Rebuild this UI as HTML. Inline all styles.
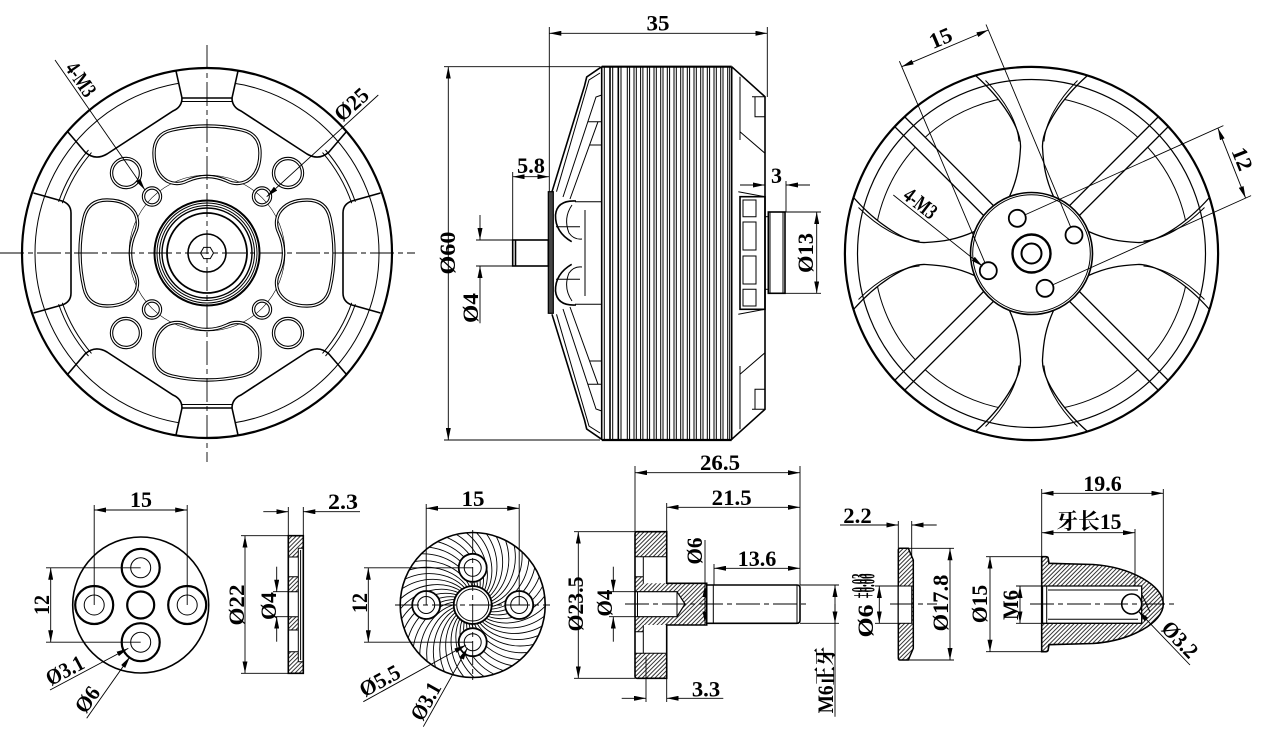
<!DOCTYPE html>
<html><head><meta charset="utf-8">
<style>
html,body{margin:0;padding:0;background:#fff;width:1265px;height:738px;overflow:hidden;}
svg{display:block;}
text{font-family:"Liberation Serif","Noto Serif CJK SC",serif;font-weight:bold;font-size:22px;fill:#000;}
.o{fill:none;stroke:#000;stroke-width:1.6;}
.k{fill:none;stroke:#000;stroke-width:2.2;}
.t{fill:none;stroke:#000;stroke-width:1;}
.d{fill:none;stroke:#000;stroke-width:0.9;}
.c{fill:none;stroke:#000;stroke-width:0.9;stroke-dasharray:24 4 5 4;}
.w{fill:#fff;stroke:#000;stroke-width:1.4;}
.b{fill:none;stroke:#000;stroke-width:3.4;}
.bw{fill:none;stroke:#fff;stroke-width:1.3;}
.ar{marker-end:url(#a);}
.ab{marker-start:url(#a);marker-end:url(#a);}
</style></head><body>
<svg width="1265" height="738" viewBox="0 0 1265 738" xmlns="http://www.w3.org/2000/svg">
<defs>
<marker id="a" viewBox="0 0 12 5" refX="12" refY="2.5" markerWidth="12" markerHeight="5" markerUnits="userSpaceOnUse" orient="auto-start-reverse"><path d="M0,0L12,2.5L0,5z" fill="#000" stroke="none"/></marker>
<pattern id="h" patternUnits="userSpaceOnUse" width="3" height="3" patternTransform="rotate(45)"><line x1="0.5" y1="0" x2="0.5" y2="3" stroke="#000" stroke-width="0.8"/></pattern>
<clipPath id="cp6"><circle cx="472.7" cy="605" r="72"/></clipPath>
<path id="sl" d="M-35,-123 Q0,-131 35,-123 Q53,-119 53,-100 Q53,-80 40,-72 Q30,-67 20,-72 Q0,-81 -20,-72 Q-30,-67 -40,-72 Q-53,-80 -53,-100 Q-53,-119 -35,-123 Z"/>
<g id="q1">
 <path class="o" d="M-31,-182 L-25,-155 L0,-155"/>
 <path class="t" d="M-25,-151.5 L0,-151.5"/>
 <path class="o" d="M-25,-155 Q-25,-146 -34,-142 L-100,-99 Q-112,-92 -122,-101 L-139.5,-121.5"/>
 <path class="t" d="M-118.5,-103 A157,157 0 0 0 -148.4,-51.1"/>
 <path class="t" d="M-115.5,-100.4 A153,153 0 0 0 -144.7,-49.8"/>
 <path class="o" d="M-173.5,-60 L-145,-52 Q-136,-49 -136,-40 L-136,0"/>
</g>
<polygon id="ds" points="56,-7 186.3,-7 186.3,7 56,7"/>
<path id="cs" d="M-56,-178 C-30,-155 -10,-125 -11,-106 C-12,-88 -14,-75 -22,-57 L22,-57 C14,-75 12,-88 11,-106 C10,-125 30,-155 56,-178 A186.6,186.6 0 0 0 -56,-178 Z"/>
<path id="cf" d="M-46,-173 C-26,-153 -14,-131 -12.5,-112 M46,-173 C26,-153 14,-131 12.5,-112"/>
<path id="sw" d="M0,-76 C22,-56 24,-26 11.5,-9.6"/>
<g id="lc">
 <path class="o" d="M601.7,66.7 L586.7,77 L584.5,86 L552,191.7"/>
 <path class="t" d="M600,73 L589,80 L556.5,191.7"/>
 <path class="t" d="M601.7,95 L596,97 L563,197"/>
 <path class="t" d="M588,121.7 L601.7,121.7 M590,145 L601.7,145"/>
 <path class="t" d="M598,121.7 L570,199 M575,201.7 L601.7,201.7"/>
 <path class="o" d="M576,201 Q557,200 555.5,215 Q555,232 571.7,241.7"/>
 <path class="t" d="M572,205 Q563,218 569,233 Q574,240 582,239 M556,226.7 H580 M585,210 V253"/>
</g>
<g id="rc">
 <path class="o" d="M731.7,66.7 L765,96.7 V253"/>
 <path class="t" d="M740,76.7 V140 M740,131.7 L765,153.3 M752,96.7 H765 M755,96.7 V116.7 H765"/>
 <path class="t" d="M738.3,191.7 L765,196.7"/>
</g>
</defs>

<!-- ================= VIEW 1 ================= -->
<g transform="translate(207,253)">
 <circle r="172" class="t"/>
 <path d="M-31,-182 L-25,-155 L25,-155 L31,-182 Z M-31,182 L-25,155 L25,155 L31,182 Z" fill="#fff" stroke="none"/>
 <circle r="185" class="k"/>
 <use href="#q1"/>
 <use href="#q1" transform="scale(-1,1)"/>
 <use href="#q1" transform="scale(1,-1)"/>
 <use href="#q1" transform="scale(-1,-1)"/>
 <circle r="78" fill="none" stroke="#000" stroke-width="0.6"/>
 <use href="#sl" class="b"/><use href="#sl" class="bw"/>
 <use href="#sl" class="b" transform="rotate(90)"/><use href="#sl" class="bw" transform="rotate(90)"/>
 <use href="#sl" class="b" transform="rotate(180)"/><use href="#sl" class="bw" transform="rotate(180)"/>
 <use href="#sl" class="b" transform="rotate(270)"/><use href="#sl" class="bw" transform="rotate(270)"/>
 <g class="b"><circle cx="-81" cy="-80" r="14.5"/><circle cx="81" cy="-80" r="14.5"/><circle cx="-81" cy="80" r="14.5"/><circle cx="81" cy="80" r="14.5"/>
 <circle cx="-55" cy="-56.5" r="8.5"/><circle cx="55" cy="-56.5" r="8.5"/><circle cx="-55" cy="56.5" r="8.5"/><circle cx="55" cy="56.5" r="8.5"/></g>
 <g class="bw"><circle cx="-81" cy="-80" r="14.5"/><circle cx="81" cy="-80" r="14.5"/><circle cx="-81" cy="80" r="14.5"/><circle cx="81" cy="80" r="14.5"/>
 <circle cx="-55" cy="-56.5" r="8.5"/><circle cx="55" cy="-56.5" r="8.5"/><circle cx="-55" cy="56.5" r="8.5"/><circle cx="55" cy="56.5" r="8.5"/></g>
 <circle r="52.5" class="k" style="stroke-width:2"/>
 <circle r="50" class="t"/>
 <circle r="47.5" class="t"/>
 <circle r="45" class="o" style="stroke-width:1.4"/>
 <circle r="40" class="k" style="stroke-width:1.8"/>
 <circle r="19" class="o"/>
 <polygon points="6.5,0 3.25,5.63 -3.25,5.63 -6.5,0 -3.25,-5.63 3.25,-5.63" class="t"/>
 <path class="c" d="M0,-208 V209 M-207,0 H208"/>
</g>
<path class="d ar" d="M55,60 L145,190"/>
<path class="d ar" d="M378.3,95 L266.7,196.7"/>
<text transform="translate(62,70) rotate(55.3)" y="-3" font-size="19" textLength="37" lengthAdjust="spacingAndGlyphs">4-M3</text>
<text transform="translate(345,125.6) rotate(-42.3)" y="-4" textLength="38" lengthAdjust="spacingAndGlyphs">Ø25</text>

<!-- ================= VIEW 2 (side) ================= -->
<path class="k" d="M601.7,66.7 H731.7 M601.7,440 H731.7"/>
<path class="o" d="M601.7,66.7V440 M610,66.7V440 M618.3,66.7V440 M731.7,66.7V440"/>
<path class="t" d="M604.3,66.7V440 M612.7,66.7V440 M621,66.7V440 M727.7,66.7V440 M729.7,66.7V440
M627.3,66.7V440 M629.6,66.7V440 M634,66.7V440 M636.3,66.7V440 M640.6,66.7V440 M642.9,66.7V440 M647.3,66.7V440 M649.6,66.7V440 M654,66.7V440 M656.3,66.7V440 M660.7,66.7V440 M663,66.7V440 M667.3,66.7V440 M669.6,66.7V440 M674,66.7V440 M676.3,66.7V440 M680.7,66.7V440 M683,66.7V440 M687.3,66.7V440 M689.6,66.7V440 M694,66.7V440 M696.3,66.7V440 M700.7,66.7V440 M703,66.7V440 M707.3,66.7V440 M709.6,66.7V440 M714,66.7V440 M716.3,66.7V440 M720.7,66.7V440 M723,66.7V440"/>
<use href="#lc"/>
<use href="#lc" transform="translate(0,506) scale(1,-1)"/>
<rect x="548.3" y="191.7" width="5" height="121.6" fill="#444" stroke="#000" stroke-width="1.2"/>
<rect x="512.7" y="240" width="35.6" height="26" class="o" fill="#fff"/>
<path class="o" d="M515.5,240 V266"/>
<use href="#rc"/>
<use href="#rc" transform="translate(0,506) scale(1,-1)"/>
<rect x="740" y="196.7" width="25" height="112.6" class="o"/>
<path class="t" d="M743,200 H756 V216.7 H743 Z M743,222 H756 V250 H743 Z M743,256 H756 V284 H743 Z M743,289.3 H756 V306 H743 Z"/>
<rect x="765" y="216.7" width="3.3" height="72.6" class="t"/>
<rect x="768.3" y="212" width="16.7" height="81.3" class="o"/>
<path class="t" d="M770,212 V293.3 M783,212 V293.3"/>
<!-- dims view 2 -->
<path class="d ab" d="M549.3,33.3 H767.3"/>
<path class="d" d="M549.3,27 V192 M767.3,27 V97"/>
<text x="658" y="30.5" text-anchor="middle" textLength="23" lengthAdjust="spacingAndGlyphs">35</text>
<path class="d ab" d="M448.3,66.7 V440"/>
<path class="d" d="M444,66.7 H600 M444,440 H600"/>
<text transform="translate(455,253) rotate(-90)" text-anchor="middle" font-size="24" textLength="43" lengthAdjust="spacingAndGlyphs">Ø60</text>
<path class="d ab" d="M512.7,176.7 H549.3"/>
<path class="d" d="M512.7,172 V240"/>
<text x="531" y="173" text-anchor="middle" textLength="28" lengthAdjust="spacingAndGlyphs">5.8</text>
<path class="d ar" d="M480,215 V240"/>
<path class="d ar" d="M480,323.3 V266"/>
<path class="d" d="M476,240 H512.7 M476,266 H512.7"/>
<text transform="translate(478,308) rotate(-90)" text-anchor="middle" textLength="30" lengthAdjust="spacingAndGlyphs">Ø4</text>
<path class="d ar" d="M740,185 H765"/>
<path class="d ar" d="M810,185 H786"/>
<path class="d" d="M786,181 V212"/>
<text x="776.5" y="183" text-anchor="middle" textLength="11" lengthAdjust="spacingAndGlyphs">3</text>
<path class="d ab" d="M816.7,212 V293.3"/>
<path class="d" d="M785,212 H821 M785,293.3 H821"/>
<text transform="translate(813,253) rotate(-90)" text-anchor="middle" textLength="40" lengthAdjust="spacingAndGlyphs">Ø13</text>

<!-- ================= VIEW 3 ================= -->
<g transform="translate(1031.5,253.5)">
 <circle r="157.5" class="t"/>
 <g class="w" style="stroke-width:1.3">
  <use href="#ds" transform="rotate(45)"/><use href="#ds" transform="rotate(135)"/><use href="#ds" transform="rotate(225)"/><use href="#ds" transform="rotate(315)"/>
  <use href="#cs"/><use href="#cs" transform="rotate(90)"/><use href="#cs" transform="rotate(180)"/><use href="#cs" transform="rotate(270)"/>
 </g>
 <g class="t">
  <use href="#cf"/><use href="#cf" transform="rotate(90)"/><use href="#cf" transform="rotate(180)"/><use href="#cf" transform="rotate(270)"/>
 </g>
 <circle r="174" class="t" style="stroke-width:1.2"/>
 <circle r="186.6" class="k"/>
 <circle r="61" class="w" style="stroke-width:1.6"/>
 <circle r="58.8" class="t"/>
 <circle r="19" class="k" style="stroke-width:2.4"/>
 <circle r="10" class="k" style="stroke-width:2"/>
 <g class="o" style="stroke-width:1.8"><circle cx="-14.2" cy="-35.2" r="8.5"/><circle cx="42.5" cy="-18.5" r="8.5"/><circle cx="-43.2" cy="17.2" r="8.5"/><circle cx="13.5" cy="34.8" r="8.5"/></g>
</g>
<path class="d ab" d="M901.7,66.7 L988.3,30"/>
<path class="d" d="M985.2,263.3 L899.4,61.2 M1070.9,227.6 L986,24.5"/>
<text transform="translate(945,48.4) rotate(-23)" y="-4" text-anchor="middle" textLength="23" lengthAdjust="spacingAndGlyphs">15</text>
<path class="d ab" d="M1217.9,128.1 L1245.6,198.1"/>
<path class="d" d="M1025.5,214.6 L1223.4,125.6 M1053.2,284.6 L1251.1,195.6"/>
<text transform="translate(1231.8,163.1) rotate(68.4)" y="-4" text-anchor="middle" textLength="23" lengthAdjust="spacingAndGlyphs">12</text>
<path class="d ar" d="M893.3,195 L982.6,266.2"/>
<text transform="translate(900,200.3) rotate(38.1)" y="-3" font-size="19" textLength="36" lengthAdjust="spacingAndGlyphs">4-M3</text>

<!-- ================= VIEW 4 ================= -->
<circle cx="140.7" cy="605" r="68" class="o"/>
<g class="k"><circle cx="140.7" cy="567.8" r="19"/><circle cx="140.7" cy="642.2" r="19"/><circle cx="94.2" cy="605" r="19"/><circle cx="187.2" cy="605" r="19"/><circle cx="140.7" cy="605" r="13.5"/></g>
<g class="t"><circle cx="140.7" cy="567.8" r="10"/><circle cx="140.7" cy="642.2" r="10"/><circle cx="94.2" cy="605" r="10"/><circle cx="187.2" cy="605" r="10"/></g>
<path class="d ab" d="M94.2,510 H187.2"/>
<path class="d" d="M94.2,505 V605 M187.2,505 V605"/>
<text x="141" y="507" text-anchor="middle" textLength="22" lengthAdjust="spacingAndGlyphs">15</text>
<path class="d ab" d="M50.7,567.8 V642.2"/>
<path class="d" d="M46,567.8 H140.7 M46,642.2 H140.7"/>
<text transform="translate(49,605) rotate(-90)" text-anchor="middle" textLength="20" lengthAdjust="spacingAndGlyphs">12</text>
<path class="d ar" d="M50,690 L128.3,648.3"/>
<path class="d ar" d="M86.7,718.3 L130,656.7"/>
<text transform="translate(52,688.9) rotate(-28)" y="-3" textLength="40" lengthAdjust="spacingAndGlyphs">Ø3.1</text>
<text transform="translate(88,716.5) rotate(-54.9)" y="-3" textLength="27" lengthAdjust="spacingAndGlyphs">Ø6</text>

<!-- ================= VIEW 5 ================= -->
<path fill="url(#h)" d="M288.3,535.7 H303.3 V548.3 H298.3 V557 H288.3 Z"/>
<rect x="288.3" y="576.7" width="10" height="15" fill="url(#h)"/>
<rect x="288.3" y="616.7" width="10" height="13.3" fill="url(#h)"/>
<path fill="url(#h)" d="M288.3,651.7 H298.3 V661.7 H303.3 V673.3 H288.3 Z"/>
<path class="o" d="M288.3,535.7 H303.3 V673.3 H288.3 Z"/>
<path class="t" d="M298.3,548.3 V661.7 M298.3,548.3 H303.3 M298.3,661.7 H303.3 M300.6,550 V660 M288.3,557 H298.3 M288.3,576.7 H298.3 M288.3,591.7 H298.3 M288.3,616.7 H298.3 M288.3,630 H298.3 M288.3,651.7 H298.3"/>
<path class="d ar" d="M263.3,511.7 H288.3"/>
<path class="d ar" d="M360,511.7 H303.3"/>
<path class="d" d="M288.3,507 V535.7 M303.3,507 V535.7"/>
<text x="343" y="509" text-anchor="middle" textLength="30" lengthAdjust="spacingAndGlyphs">2.3</text>
<path class="d ab" d="M245,535.7 V673.3"/>
<path class="d" d="M241,535.7 H288.3 M241,673.3 H288.3"/>
<text transform="translate(244,605) rotate(-90)" text-anchor="middle" textLength="41" lengthAdjust="spacingAndGlyphs">Ø22</text>
<path class="d ar" d="M276.7,566.7 V591.7"/>
<path class="d ar" d="M276.7,641.7 V616.7"/>
<path class="d" d="M273,591.7 H288.3 M273,616.7 H288.3"/>
<text transform="translate(276,606) rotate(-90)" text-anchor="middle" textLength="28" lengthAdjust="spacingAndGlyphs">Ø4</text>

<!-- ================= VIEW 6 ================= -->
<g clip-path="url(#cp6)">
 <g fill="none" stroke="#000" stroke-width="0.9" transform="translate(472.7,605)">
  <use href="#sw"/><use href="#sw" transform="rotate(8)"/><use href="#sw" transform="rotate(16)"/><use href="#sw" transform="rotate(24)"/><use href="#sw" transform="rotate(32)"/><use href="#sw" transform="rotate(40)"/><use href="#sw" transform="rotate(48)"/><use href="#sw" transform="rotate(56)"/><use href="#sw" transform="rotate(64)"/>
  <use href="#sw" transform="rotate(72)"/><use href="#sw" transform="rotate(80)"/><use href="#sw" transform="rotate(88)"/><use href="#sw" transform="rotate(96)"/><use href="#sw" transform="rotate(104)"/><use href="#sw" transform="rotate(112)"/><use href="#sw" transform="rotate(120)"/><use href="#sw" transform="rotate(128)"/><use href="#sw" transform="rotate(136)"/>
  <use href="#sw" transform="rotate(144)"/><use href="#sw" transform="rotate(152)"/><use href="#sw" transform="rotate(160)"/><use href="#sw" transform="rotate(168)"/><use href="#sw" transform="rotate(176)"/><use href="#sw" transform="rotate(184)"/><use href="#sw" transform="rotate(192)"/><use href="#sw" transform="rotate(200)"/><use href="#sw" transform="rotate(208)"/>
  <use href="#sw" transform="rotate(216)"/><use href="#sw" transform="rotate(224)"/><use href="#sw" transform="rotate(232)"/><use href="#sw" transform="rotate(240)"/><use href="#sw" transform="rotate(248)"/><use href="#sw" transform="rotate(256)"/><use href="#sw" transform="rotate(264)"/><use href="#sw" transform="rotate(272)"/><use href="#sw" transform="rotate(280)"/>
  <use href="#sw" transform="rotate(288)"/><use href="#sw" transform="rotate(296)"/><use href="#sw" transform="rotate(304)"/><use href="#sw" transform="rotate(312)"/><use href="#sw" transform="rotate(320)"/><use href="#sw" transform="rotate(328)"/><use href="#sw" transform="rotate(336)"/><use href="#sw" transform="rotate(344)"/><use href="#sw" transform="rotate(352)"/>
 </g>
</g>
<g class="w" style="stroke-width:1.8"><circle cx="472.7" cy="567.8" r="14"/><circle cx="472.7" cy="642.2" r="14"/><circle cx="426.2" cy="605" r="14"/><circle cx="519.2" cy="605" r="14"/><circle cx="472.7" cy="605" r="19"/></g>
<g class="t"><circle cx="472.7" cy="567.8" r="8.5"/><circle cx="472.7" cy="642.2" r="8.5"/><circle cx="426.2" cy="605" r="8.5"/><circle cx="519.2" cy="605" r="8.5"/><circle cx="472.7" cy="605" r="16"/></g>
<circle cx="472.7" cy="605" r="72.5" class="o"/>
<path class="c" d="M395,605 H550 M472.7,530 V680"/>
<path class="d ab" d="M426.2,508.3 H519.2"/>
<path class="d" d="M426.2,504 V605 M519.2,504 V605"/>
<text x="473" y="506" text-anchor="middle" textLength="23" lengthAdjust="spacingAndGlyphs">15</text>
<path class="d ab" d="M368.3,567.8 V642.2"/>
<path class="d" d="M364,567.8 H472.7 M364,642.2 H472.7"/>
<text transform="translate(367,603) rotate(-90)" text-anchor="middle" textLength="20" lengthAdjust="spacingAndGlyphs">12</text>
<path class="d ar" d="M363.3,701.7 L466,645"/>
<path class="d ar" d="M423.3,726.7 L467.5,648"/>
<text transform="translate(366,700.2) rotate(-29.1)" y="-3" textLength="43" lengthAdjust="spacingAndGlyphs">Ø5.5</text>
<text transform="translate(425,723.7) rotate(-60.6)" y="-3" textLength="40" lengthAdjust="spacingAndGlyphs">Ø3.1</text>

<!-- ================= VIEW 7 ================= -->
<path fill="url(#h)" d="M635,531.7 H666.7 V556.7 H635 Z"/>
<path fill="url(#h)" d="M635,653.3 H666.7 V678.3 H635 Z"/>
<path fill="url(#h)" d="M635,576.7 H643.3 V583.3 H706.7 V625 H643.3 V631.7 H635 Z"/>
<path fill="#fff" stroke="#000" stroke-width="1.2" d="M635,591.7 H677 L685,604 L677,616.7 H635"/>
<path class="o" d="M637,531.7 H666.7 V583.3 H706.7 V625 H666.7 V678.3 H637 Q635,678.3 635,676 V534 Q635,531.7 637,531.7 Z"/>
<path class="t" d="M643.3,556.7 V583.3 M635,556.7 H666.7 M635,576.7 H643.3 M643.3,625 V653.3 M635,653.3 H666.7 M635,631.7 H643.3 M677,591.7 V616.7 M637.5,591.7 V616.7"/>
<path class="o" d="M706.7,585 H797 Q800,585 800,588 V620.3 Q800,623.3 797,623.3 H706.7"/>
<path class="t" d="M713.3,585 V623.3 M797,585 V623.3"/>
<path class="c" d="M625,604 H807"/>
<path class="d ab" d="M635,472.7 H800"/>
<path class="d" d="M635,466 V531.7 M800,466 V585"/>
<text x="720" y="470" text-anchor="middle" textLength="40" lengthAdjust="spacingAndGlyphs">26.5</text>
<path class="d ab" d="M666.7,507.3 H800"/>
<path class="d" d="M666.7,503 V531.7"/>
<text x="731.7" y="505" text-anchor="middle" textLength="40" lengthAdjust="spacingAndGlyphs">21.5</text>
<path class="d ab" d="M714,568.3 H800"/>
<path class="d" d="M714,564 V585"/>
<text x="757" y="566" text-anchor="middle" textLength="38.7" lengthAdjust="spacingAndGlyphs">13.6</text>
<path class="d" d="M705,540 V604"/>
<path class="d ar" d="M705,604 V585"/>
<path class="d ar" d="M705,604 V623.3"/>
<text transform="translate(702,551) rotate(-90)" text-anchor="middle" textLength="27" lengthAdjust="spacingAndGlyphs">Ø6</text>
<path class="d ab" d="M578.3,531.7 V678.3"/>
<path class="d" d="M574,531.7 H635 M574,678.3 H635"/>
<text transform="translate(583,604) rotate(-90)" text-anchor="middle" textLength="55" lengthAdjust="spacingAndGlyphs">Ø23.5</text>
<path class="d ar" d="M613.3,566.7 V591.7"/>
<path class="d ar" d="M613.3,641.7 V616.7"/>
<path class="d" d="M609,591.7 H635 M609,616.7 H635"/>
<text transform="translate(612,603) rotate(-90)" text-anchor="middle" textLength="27" lengthAdjust="spacingAndGlyphs">Ø4</text>
<path class="d ar" d="M621.7,698.3 H646"/>
<path class="d ar" d="M723.3,698.3 H666.7"/>
<path class="d" d="M646,657 V702 M666.7,679 V702"/>
<text x="706" y="696.5" text-anchor="middle" textLength="28.3" lengthAdjust="spacingAndGlyphs">3.3</text>
<path class="d" d="M835,604 V716.7"/>
<path class="d ar" d="M835,604 V585"/>
<path class="d ar" d="M835,604 V623.3"/>
<path class="d" d="M800,585 H839 M800,623.3 H839"/>
<text transform="translate(833,680) rotate(-90)" text-anchor="middle" font-size="20" textLength="66.7" lengthAdjust="spacingAndGlyphs">M6正牙</text>

<!-- ================= VIEW 8 ================= -->
<path fill="url(#h)" stroke="#000" stroke-width="1.5" d="M900,548.3 H908.3 L913.3,560 V648.3 L908.3,660 H900 Q898.3,660 898.3,658 V550 Q898.3,548.3 900,548.3 Z"/>
<rect x="898.3" y="586" width="13.4" height="37.3" fill="#fff" stroke="#000" stroke-width="1"/>
<path class="c" d="M890,604 H937"/>
<path class="d ar" d="M840,525 H898.3"/>
<path class="d ar" d="M936.7,525 H911.7"/>
<path class="d" d="M898.3,521 V548.3 M911.7,521 V558"/>
<text x="857.5" y="523" text-anchor="middle" textLength="28.4" lengthAdjust="spacingAndGlyphs">2.2</text>
<path class="d ab" d="M879.3,586 V623.3"/>
<path class="d" d="M875,586 H898.3 M875,623.3 H898.3"/>
<text transform="translate(873,621) rotate(-90)" text-anchor="middle" font-size="18" textLength="33" lengthAdjust="spacingAndGlyphs">Ø6</text>
<text transform="translate(866.5,586) rotate(-90)" text-anchor="middle" font-size="10" textLength="25" lengthAdjust="spacingAndGlyphs">+0.03</text>
<text transform="translate(874.5,586) rotate(-90)" text-anchor="middle" font-size="10" textLength="25" lengthAdjust="spacingAndGlyphs">+0.00</text>
<path class="d ab" d="M950,548.3 V660"/>
<path class="d" d="M908,548.3 H954 M908,660 H954"/>
<text transform="translate(948,603) rotate(-90)" text-anchor="middle" textLength="56.7" lengthAdjust="spacingAndGlyphs">Ø17.8</text>

<!-- ================= VIEW 9 ================= -->
<path fill="url(#h)" stroke="#000" stroke-width="1.6" d="M1041.7,556.7 H1046 Q1048.3,556.7 1048.3,559 L1049,563.3 L1093,564.5 C1130,567 1163.3,585 1163.3,604 C1163.3,623 1130,641 1093,643.5 L1049,644.7 L1048.3,649 Q1048.3,651.7 1046,651.7 H1041.7 Z"/>
<path fill="#fff" stroke="#000" stroke-width="1.3" d="M1042.5,586 H1141.7 V623.3 H1042.5 Z"/>
<path class="t" d="M1048,590 H1138 M1048,619.3 H1138 M1046.7,586 V623.3 M1141.7,594 L1150,612"/>
<circle cx="1131.7" cy="604" r="10" class="o" fill="#fff"/>
<path class="c" d="M1030,604 H1177"/>
<path class="d ab" d="M1041.7,493.3 H1163.3"/>
<path class="d" d="M1041.7,489 V556.7 M1163.3,489 V600"/>
<text x="1102.5" y="491" text-anchor="middle" textLength="38.4" lengthAdjust="spacingAndGlyphs">19.6</text>
<path class="d ab" d="M1041.7,532.7 H1135"/>
<path class="d" d="M1135,529 V586"/>
<text x="1089" y="529" text-anchor="middle" textLength="65" lengthAdjust="spacingAndGlyphs">牙长15</text>
<path class="d ab" d="M990,556.7 V651.7"/>
<path class="d" d="M986,556.7 H1041.7 M986,651.7 H1041.7"/>
<text transform="translate(987,604) rotate(-90)" text-anchor="middle" textLength="38.3" lengthAdjust="spacingAndGlyphs">Ø15</text>
<path class="d ab" d="M1020,586 V623.3"/>
<path class="d" d="M1016,586 H1043 M1016,623.3 H1043"/>
<text transform="translate(1018,605) rotate(-90)" text-anchor="middle" textLength="30" lengthAdjust="spacingAndGlyphs">M6</text>
<path class="d ar" d="M1190,665 L1138,610.8"/>
<text transform="translate(1158,631.5) rotate(46.3)" y="-3" textLength="42" lengthAdjust="spacingAndGlyphs">Ø3.2</text>
</svg>
</body></html>
